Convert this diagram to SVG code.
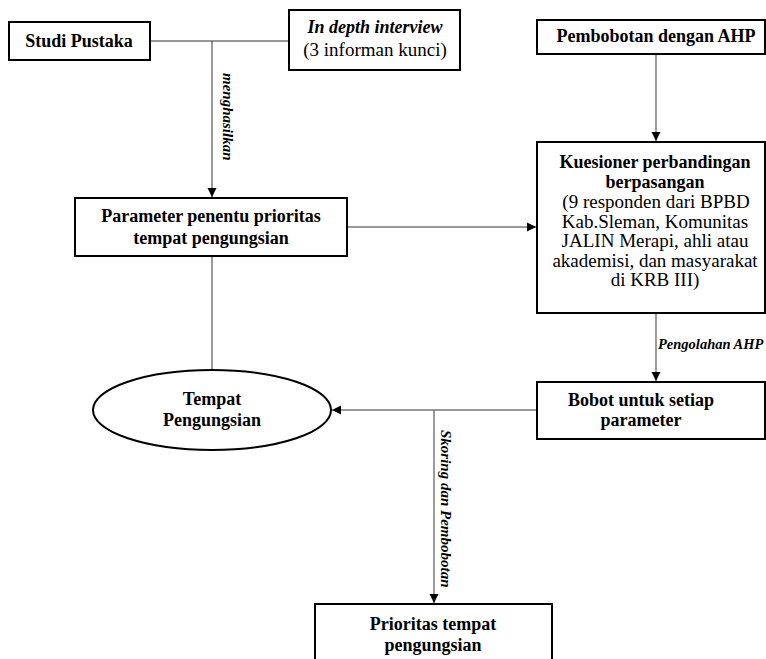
<svg xmlns="http://www.w3.org/2000/svg" width="766" height="659" viewBox="0 0 766 659">
<defs>
<marker id="ah" markerWidth="10" markerHeight="10" refX="9" refY="5" orient="auto" markerUnits="userSpaceOnUse">
<path d="M0,0.5 L9,5 L0,9.5 Z" fill="#000"/>
</marker>
<style>
.box{fill:#fff;stroke:#000;stroke-width:2}
.ln{fill:none;stroke:#333;stroke-width:1}
.lg{fill:none;stroke:#666;stroke-width:1.3}
text{font-family:'Liberation Serif','DejaVu Serif',serif;fill:#000}
.b{font-weight:bold;font-size:18px;text-anchor:middle}
.r{font-size:19px;text-anchor:middle}
.bi{font-weight:bold;font-style:italic}
</style>
</defs>
<rect width="766" height="659" fill="#fff"/>
<g id="connectors">
<path class="ln" d="M150,41 H289"/>
<path class="ln" d="M212,41 V197" marker-end="url(#ah)"/>
<path class="ln" d="M347,227 H536" marker-end="url(#ah)"/>
<path class="lg" d="M656,54 V141" marker-end="url(#ah)"/>
<path class="lg" d="M656,313 V381" marker-end="url(#ah)"/>
<path class="ln" d="M212,256 V370"/>
<path class="ln" d="M537,410 H332" marker-end="url(#ah)"/>
<path class="lg" d="M434,410 V603" marker-end="url(#ah)"/>
<text class="bi" font-size="15" transform="translate(223,73) rotate(90)">menghasilkan</text>
<text class="bi" font-size="15" transform="translate(441,430) rotate(90)">Skoring dan Pembobotan</text>
<text class="bi" font-size="14.5" x="658" y="349">Pengolahan AHP</text>
</g>
<g id="studi">
<rect class="box" x="9" y="22" width="141" height="38"/>
<text class="b" x="79" y="47">Studi Pustaka</text>
</g>
<g id="interview">
<rect class="box" x="289" y="10" width="171" height="60"/>
<text class="b" x="375" y="33" font-style="italic">In depth interview</text>
<text class="r" x="375" y="56">(3 informan kunci)</text>
</g>
<g id="pembobotan">
<rect class="box" x="537" y="20" width="228" height="34"/>
<text class="b" x="656" y="42">Pembobotan dengan AHP</text>
</g>
<g id="kuesioner">
<rect class="box" x="537" y="142" width="228" height="171"/>
<text class="b" x="655" y="168">Kuesioner perbandingan</text>
<text class="b" x="655" y="188">berpasangan</text>
<text class="r" x="656" y="208">(9 responden dari BPBD</text>
<text class="r" x="655" y="228">Kab.Sleman, Komunitas</text>
<text class="r" x="655" y="247">JALIN Merapi, ahli atau</text>
<text class="r" x="655" y="267">akademisi, dan masyarakat</text>
<text class="r" x="655" y="286">di KRB III)</text>
</g>
<g id="parameter">
<rect class="box" x="75" y="198" width="272" height="58"/>
<text class="b" x="211" y="222">Parameter penentu prioritas</text>
<text class="b" x="211" y="244">tempat pengungsian</text>
</g>
<g id="tempat">
<ellipse cx="212" cy="410" rx="119" ry="40" fill="#fff" stroke="#000" stroke-width="2"/>
<text class="b" x="212" y="405">Tempat</text>
<text class="b" x="212" y="426">Pengungsian</text>
</g>
<g id="bobot">
<rect class="box" x="537" y="382" width="228" height="57"/>
<text class="b" x="641" y="406">Bobot untuk setiap</text>
<text class="b" x="641" y="426">parameter</text>
</g>
<g id="prioritas">
<rect class="box" x="315" y="604" width="237" height="60"/>
<text class="b" x="433" y="630">Prioritas tempat</text>
<text class="b" x="433" y="651">pengungsian</text>
</g>
</svg>
